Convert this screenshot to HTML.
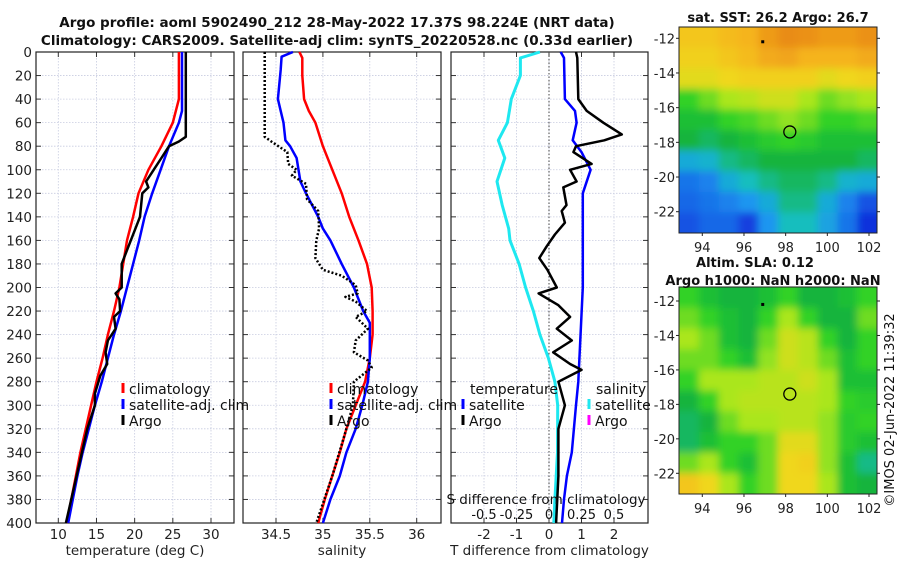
<!DOCTYPE html>
<html><head><meta charset="utf-8"><style>
body{margin:0;background:#fff;width:900px;height:580px;overflow:hidden}
svg{display:block;font-family:"DejaVu Sans","Liberation Sans",sans-serif}
</style></head><body>
<svg id="c" width="900" height="580" xmlns="http://www.w3.org/2000/svg">
<defs>
<filter id="blur" x="-5%" y="-5%" width="110%" height="110%"><feGaussianBlur stdDeviation="4"/></filter>
<clipPath id="clipTop"><rect x="679" y="27" width="198" height="206"/></clipPath>
<clipPath id="clipBot"><rect x="679" y="287" width="198" height="207"/></clipPath>
</defs>
</svg>
<script>
// ---- data ----
const depthTicks=[0,20,40,60,80,100,120,140,160,180,200,220,240,260,280,300,320,340,360,380,400];
const tempTicks=[10,15,20,25,30];
const salTicks=[34.5,35,35.5,36];
const tdiffTicks=[-2,-1,0,1,2];
const sdiffTicks=[-0.5,-0.25,0,0.25,0.5];
const sdiffTickLabels=['-0.5','-0.25','0','0.25','0.5'];
const climTdep=[0,40,60,80,100,120,140,160,180,200,220,240,260,280,300,320,340,360,380,400];
const climTval=[25.8,25.8,25,23.5,21.8,20.5,19.8,19,18.5,18,17.3,16.5,15.8,15,14.3,13.6,12.9,12.3,11.7,11.1];
const satTdep=[0,50,60,80,100,120,140,160,180,200,220,240,260,280,300,320,340,360,380,400];
const satTval=[26.2,26.2,25.8,24.5,23.4,22.3,21.3,20.6,19.8,19,18.2,17.3,16.5,15.7,14.8,14,13.2,12.5,11.9,11.3];
const argoTdep=[0,72,76,80,90,100,110,115,120,140,160,180,200,205,210,220,225,235,245,255,265,275,290,300,320,360,400];
const argoTval=[26.7,26.7,25.8,24.5,23.5,22.5,21.5,21.8,21,20.7,19.5,18.3,18.3,17.5,18,18.1,17.3,17.5,16.5,16.2,16.4,15.5,14.8,14.8,13.8,12.4,11];
const climSdep=[0,5,20,40,50,60,80,100,120,140,160,180,200,220,240,260,280,300,320,340,360,380,400];
const climSval=[34.75,34.78,34.78,34.8,34.85,34.92,35.0,35.1,35.2,35.28,35.38,35.47,35.52,35.53,35.53,35.5,35.45,35.35,35.25,35.18,35.1,35.02,34.95];
const satSdep=[0,4,15,40,50,60,75,80,90,110,120,140,150,160,180,200,220,230,260,280,300,320,340,360,380,400];
const satSval=[34.68,34.56,34.55,34.52,34.55,34.58,34.6,34.65,34.72,34.76,34.82,34.95,35.0,35.08,35.2,35.33,35.43,35.5,35.5,35.48,35.42,35.35,35.25,35.18,35.08,35.0];
const argoSdep=[0,72,76,85,95,100,105,112,125,135,150,160,175,185,190,198,205,208,212,220,225,235,245,255,262,268,280,300,320,360,400];
const argoSval=[34.38,34.38,34.45,34.62,34.63,34.72,34.67,34.82,34.83,34.95,34.96,34.93,34.92,35.0,35.2,35.35,35.37,35.24,35.35,35.47,35.35,35.48,35.35,35.33,35.48,35.52,35.33,35.32,35.25,35.1,34.93];
const satTdiffDep=[0,5,40,50,60,75,85,100,120,160,200,280,300,340,360,380,400];
const satTdiffVal=[0.36,0.46,0.49,0.8,0.85,0.73,1.0,1.28,1.04,1.04,1.04,0.9,0.83,0.7,0.55,0.46,0.4];
const argoTdiffDep=[0,5,40,50,60,70,75,80,85,95,100,110,115,130,135,145,155,165,175,185,200,205,215,225,235,245,255,265,270,280,300,320,360,400];
const argoTdiffVal=[0.83,0.87,0.9,1.16,1.67,2.24,1.7,0.83,0.75,1.31,0.65,0.85,0.44,0.54,0.39,0.49,0.18,-0.07,-0.3,-0.05,0.24,-0.32,0.29,0.65,0.24,0.7,0.13,0.65,1.0,0.29,0.49,0.29,0.29,0.22];
const satSdiffDep=[0,5,20,40,60,75,90,110,130,150,160,180,200,220,240,260,280,300,340,380,400];
const satSdiffVal=[-0.07,-0.22,-0.22,-0.29,-0.32,-0.39,-0.34,-0.4,-0.36,-0.31,-0.3,-0.23,-0.18,-0.12,-0.07,-0.005,0.045,0.067,0.065,0.045,0.037];
const lonTicks=[94,96,98,100,102];
const latTicks=[-12,-14,-16,-18,-20,-22];
const sstGrid=[
[0.75,0.75,0.78,0.8,0.85,0.88,0.87,0.85,0.85,0.87],
[0.72,0.72,0.75,0.78,0.82,0.83,0.8,0.8,0.8,0.82],
[0.68,0.68,0.7,0.72,0.72,0.72,0.72,0.68,0.7,0.72],
[0.5,0.55,0.6,0.62,0.65,0.65,0.6,0.55,0.58,0.6],
[0.45,0.45,0.5,0.52,0.55,0.58,0.55,0.5,0.5,0.52],
[0.42,0.4,0.42,0.45,0.48,0.5,0.48,0.45,0.45,0.45],
[0.3,0.32,0.38,0.4,0.42,0.42,0.42,0.42,0.42,0.4],
[0.2,0.22,0.3,0.35,0.38,0.4,0.4,0.38,0.32,0.3],
[0.18,0.2,0.22,0.25,0.3,0.38,0.38,0.3,0.22,0.15],
[0.15,0.18,0.18,0.12,0.25,0.35,0.35,0.28,0.2,0.1]];
const slaGrid=[
[0.5,0.45,0.42,0.42,0.45,0.5,0.42,0.42,0.45,0.5],
[0.55,0.5,0.45,0.42,0.5,0.6,0.5,0.42,0.42,0.55],
[0.6,0.55,0.45,0.42,0.55,0.65,0.62,0.5,0.42,0.5],
[0.55,0.55,0.5,0.45,0.58,0.65,0.62,0.55,0.45,0.5],
[0.5,0.6,0.6,0.6,0.62,0.62,0.65,0.6,0.45,0.45],
[0.42,0.5,0.6,0.62,0.62,0.62,0.62,0.6,0.5,0.48],
[0.4,0.42,0.55,0.6,0.6,0.62,0.62,0.58,0.48,0.5],
[0.4,0.45,0.5,0.5,0.55,0.68,0.68,0.58,0.48,0.45],
[0.55,0.6,0.5,0.45,0.55,0.7,0.72,0.58,0.45,0.38],
[0.75,0.7,0.6,0.5,0.55,0.7,0.7,0.6,0.45,0.42]];
const argoPos=[98.2,-17.4];
const dotPos=[96.9,-12.2];

// ---- helpers ----
const NS='http://www.w3.org/2000/svg';
const svg=document.getElementById('c');
function mk(tag,attrs,parent,txt){const e=document.createElementNS(NS,tag);for(const k in attrs)e.setAttribute(k,attrs[k]);if(txt!==undefined)e.textContent=txt;(parent||svg).appendChild(e);return e;}
const Y0=52,Y1=523;
const yD=d=>Y0+(Y1-Y0)*d/400;
function lin(d0,d1,p0,p1){return v=>p0+(v-d0)*(p1-p0)/(d1-d0);}
const xT=lin(10,30,58.3,211);
const xS=lin(34.5,36,276,416.7);
const xTd=lin(0,2,549,614);
const xSd=v=>xTd(v*4);

function panel(name,x0,x1,xs,ticks,labels,title,showDepth){
  const g=mk('g',{});
  
  
  depthTicks.forEach(d=>{mk('line',{x1:x0,x2:x1,y1:yD(d),y2:yD(d),stroke:'#c8cce0','stroke-width':0.8,'stroke-dasharray':'1.5,1.5'},g);
    mk('line',{x1:x0,x2:x0+5,y1:yD(d),y2:yD(d),stroke:'#333'},g);mk('line',{x1:x1-5,x2:x1,y1:yD(d),y2:yD(d),stroke:'#333'},g);
    if(showDepth){const t=mk('text',{x:x0-4,y:yD(d)+5,'font-size':13.5,'text-anchor':'end',fill:'#222'},g,String(d));}});
  ticks.forEach((v,i)=>{const x=xs(v);mk('line',{x1:x,x2:x,y1:Y0,y2:Y1,stroke:'#c8cce0','stroke-width':0.8,'stroke-dasharray':'1.5,1.5'},g);
    mk('line',{x1:x,x2:x,y1:Y1,y2:Y1-5,stroke:'#333'},g);mk('line',{x1:x,x2:x,y1:Y0,y2:Y0+5,stroke:'#333'},g);
    const t=mk('text',{x:x,y:539,'font-size':13.5,'text-anchor':'middle',fill:'#222'},g,labels[i]);});
  mk('rect',{x:x0,y:Y0,width:x1-x0,height:Y1-Y0,fill:'none',stroke:'#222','stroke-width':1.2},g);
  const tt=mk('text',{x:(x0+x1)/2,y:555,'font-size':13.5,'text-anchor':'middle',fill:'#222'},g,title);
  
}
function line(name,deps,vals,xs,color,w,dash){
  const pts=deps.map((d,i)=>xs(vals[i]).toFixed(1)+','+yD(d).toFixed(1)).join(' ');
  const p=mk('polyline',{points:pts,fill:'none',stroke:color,'stroke-width':w,'stroke-linejoin':'round'});
  if(dash)p.setAttribute('stroke-dasharray',dash);
  
}
function txt(name,x,y,s,size,anchor,bold){const t=mk('text',{x:x,y:y,'font-size':size,'text-anchor':anchor||'start',fill:'#111','font-weight':bold?'bold':'normal'},svg,s);return t;}
function legend(name,x,y,color,label){const g=mk('g',{});
  mk('line',{x1:x,x2:x,y1:y-11,y2:y-1,stroke:color,'stroke-width':3},g);mk('text',{x:x+6,y:y,'font-size':14,fill:'#111'},g,label);}

// titles
txt('title-line-1',337,27,'Argo profile: aoml 5902490_212 28-May-2022 17.37S 98.224E (NRT data)',13.5,'middle',true);
txt('title-line-2',337,45,'Climatology: CARS2009. Satellite-adj clim: synTS_20220528.nc (0.33d earlier)',13.5,'middle',true);

// panels
panel('temperature-panel',36,234,xT,tempTicks,tempTicks.map(String),'temperature (deg C)',true);
panel('salinity-panel',243,441,xS,salTicks,salTicks.map(String),'salinity',false);
panel('difference-panel',451,648,xTd,tdiffTicks,tdiffTicks.map(String),'T difference from climatology',false);
mk('line',{x1:xTd(0),x2:xTd(0),y1:Y0,y2:Y1,stroke:'#444','stroke-width':1,'stroke-dasharray':'1.5,2'});

line('temp-climatology-line',climTdep,climTval,xT,'#f00',2.5);
line('temp-satellite-line',satTdep,satTval,xT,'#00f',2.5);
line('temp-argo-line',argoTdep,argoTval,xT,'#000',2.5);
line('sal-climatology-line',climSdep,climSval,xS,'#f00',2.5);
line('sal-satellite-line',satSdep,satSval,xS,'#00f',2.5);
line('sal-argo-line',argoSdep,argoSval,xS,'#000',2.5,'2,2');
line('sdiff-satellite-line',satSdiffDep,satSdiffVal,xSd,'#1ee8f0',3);
line('tdiff-satellite-line',satTdiffDep,satTdiffVal,xTd,'#00f',2.5);
line('tdiff-argo-line',argoTdiffDep,argoTdiffVal,xTd,'#000',2.5);

legend('legend-climatology',123,394,'#f00','climatology');
legend('legend-satellite-adj',123,410,'#00f','satellite-adj. clim');
legend('legend-argo',123,426,'#000','Argo');
legend('legend-sal-climatology',331,394,'#f00','climatology');
legend('legend-sal-satellite-adj',331,410,'#00f','satellite-adj. clim');
legend('legend-sal-argo',331,426,'#000','Argo');
txt('legend-temperature-heading',470,394,'temperature',14);
legend('legend-tdiff-satellite',463,410,'#00f','satellite');
legend('legend-tdiff-argo',463,426,'#000','Argo');
txt('legend-salinity-heading',596,394,'salinity',14);
legend('legend-sdiff-satellite',589,410,'#1ee8f0','satellite');
legend('legend-sdiff-argo',589,426,'#f0f','Argo');
txt('s-axis-title',546,504,'S difference from climatology',13.5,'middle');
sdiffTicks.forEach((v,i)=>{const t=txt('s-tick-label',xSd(v),519,sdiffTickLabels[i],13,'middle');});

// maps
const cstops=[[0.1,[16,50,220]],[0.25,[30,150,240]],[0.35,[20,190,190]],[0.42,[20,180,60]],[0.5,[50,210,40]],[0.6,[170,230,30]],[0.7,[240,215,30]],[0.8,[245,180,30]],[0.9,[230,130,20]]];
function cmap(v){if(v<=cstops[0][0])return 'rgb('+cstops[0][1]+')';for(let i=1;i<cstops.length;i++){if(v<=cstops[i][0]){const a=cstops[i-1],b=cstops[i],t=(v-a[0])/(b[0]-a[0]);return 'rgb('+a[1].map((c,k)=>Math.round(c+(b[1][k]-c)*t)).join(',')+')';}}return 'rgb('+cstops[cstops.length-1][1]+')';}
function map(name,grid,y0,y1,lat12y,lat22y,lonLabY,clip){
  const x0=679,x1=877;
  const g=mk('g',{});
  const xl=lin(94,102,702.3,869),yl=lin(-12,-22,lat12y,lat22y);
  const rows=grid.length,cols=grid[0].length,cw=(x1-x0)/cols,ch=(y1-y0)/rows;
  const cg=mk('g',{'clip-path':'url(#'+clip+')'},g);
  const bg=mk('g',{filter:'url(#blur)'},cg);
  grid.forEach((r,i)=>r.forEach((v,j)=>{
    const ex=j===0?-10:0, ey=i===0?-10:0, ew=(j===cols-1?10:0)-ex, eh=(i===rows-1?10:0)-ey;
    const c=mk('rect',{x:x0+j*cw+ex,y:y0+i*ch+ey,width:cw+0.5+ew,height:ch+0.5+eh,fill:cmap(v)},bg);
    }));
  mk('rect',{x:x0,y:y0,width:x1-x0,height:y1-y0,fill:'none',stroke:'#222','stroke-width':1},g);
  latTicks.forEach(l=>{const y=yl(l);mk('line',{x1:x0-3,x2:x0,y1:y,y2:y,stroke:'#222'},g);mk('line',{x1:x1,x2:x1+3,y1:y,y2:y,stroke:'#222'},g);
    mk('text',{x:x0-4,y:y+5,'font-size':13,'text-anchor':'end',fill:'#222'},g,String(l));});
  lonTicks.forEach(l=>{const x=xl(l);mk('line',{x1:x,x2:x,y1:y1,y2:y1+3,stroke:'#222'},g);
    mk('text',{x:x,y:lonLabY,'font-size':13,'text-anchor':'middle',fill:'#222'},g,String(l));});
  const c=mk('circle',{cx:xl(argoPos[0]),cy:yl(argoPos[1]),r:6,fill:'none',stroke:'#000','stroke-width':1.3},g);
  
  mk('rect',{x:xl(dotPos[0])-1.5,y:yl(dotPos[1])-1.5,width:3,height:3,fill:'#000'},g);
}
map('sst-map',sstGrid,27,233,38.3,211.7,252,'clipTop');
map('sla-map',slaGrid,287,494,301,473.3,513,'clipBot');
txt('sst-map-title',778,22,'sat. SST: 26.2 Argo: 26.7',13,'middle',true);
txt('sla-map-title-1',755,267,'Altim. SLA: 0.12',13,'middle',true);
txt('sla-map-title-2',773,285,'Argo h1000: NaN h2000: NaN',13,'middle',true);
const cr=txt('imos-copyright',0,0,'©IMOS 02-Jun-2022 11:39:32',13,'middle');
cr.setAttribute('transform','translate(894,410) rotate(-90)');
</script>
</body></html>
